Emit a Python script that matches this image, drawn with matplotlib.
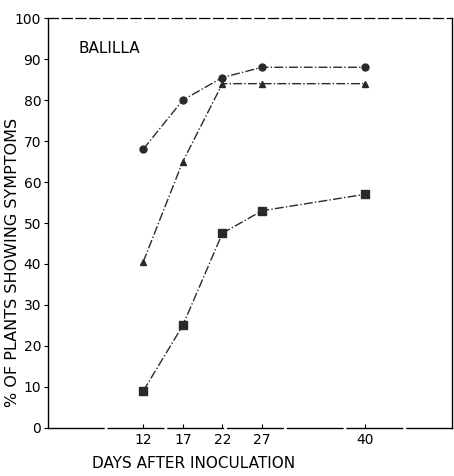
import matplotlib
matplotlib.use('Agg')
import matplotlib.pyplot as plt

# days after inoculation and % of plants showing symptoms (cv. Balilla)
days = [12, 17, 22, 27, 40]
pct_circle = [68, 80, 85.5, 88, 88]
pct_triangle = [40.5, 65, 84, 84, 84]
pct_square = [9, 25, 47.5, 53, 57]

y_ticks = [0, 10, 20, 30, 40, 50, 60, 70, 80, 90, 100]
y_labels = ['0', '10', '20', '30', '40', '50', '60', '70', '80', '90', '100']

plt.rcParams['font.family'] = ['DejaVu Sans']

fig = plt.figure(figsize=(4.54, 4.76), dpi=100)
ax = fig.add_axes([0.106, 0.101, 0.890, 0.861])

line_kw = dict(color='#2a2a2a', linestyle='-.', linewidth=1.0)
ax.plot(days, pct_circle, marker='o', markersize=5, **line_kw)
ax.plot(days, pct_triangle, marker='^', markersize=4.5, **line_kw)
ax.plot(days, pct_square, marker='s', markersize=5.5, **line_kw)

ax.set_xlim(0, 51)
ax.set_ylim(0, 100)
ax.set_xticks(days)
ax.set_xticklabels([str(d) for d in days], fontsize=10)
ax.set_yticks(y_ticks)
ax.set_yticklabels(y_labels, fontsize=10)
ax.tick_params(axis='y', direction='out', length=3, width=0.8, pad=2)
ax.tick_params(axis='x', direction='in', length=3, width=0.8, pad=4)

# frame: solid left/right, dashed top, mostly solid bottom with breaks
for side in ['left', 'right']:
    ax.spines[side].set_linewidth(1.0)
ax.spines['top'].set_linestyle((0, (8, 3)))
ax.spines['top'].set_linewidth(0.9)
ax.spines['bottom'].set_linestyle((0, (40, 3)))
ax.spines['bottom'].set_linewidth(1.0)

ax.text(0.075, 0.925, 'BALILLA', transform=ax.transAxes, fontsize=11,
        ha='left', va='center')

ax.set_xlabel('DAYS AFTER INOCULATION', fontsize=11)
ax.xaxis.set_label_coords(0.36, -0.068)
ax.set_ylabel('% OF PLANTS SHOWING SYMPTOMS', fontsize=11.5)
ax.yaxis.set_label_coords(-0.07, 0.405)

fig.savefig('out.png', dpi=100)
